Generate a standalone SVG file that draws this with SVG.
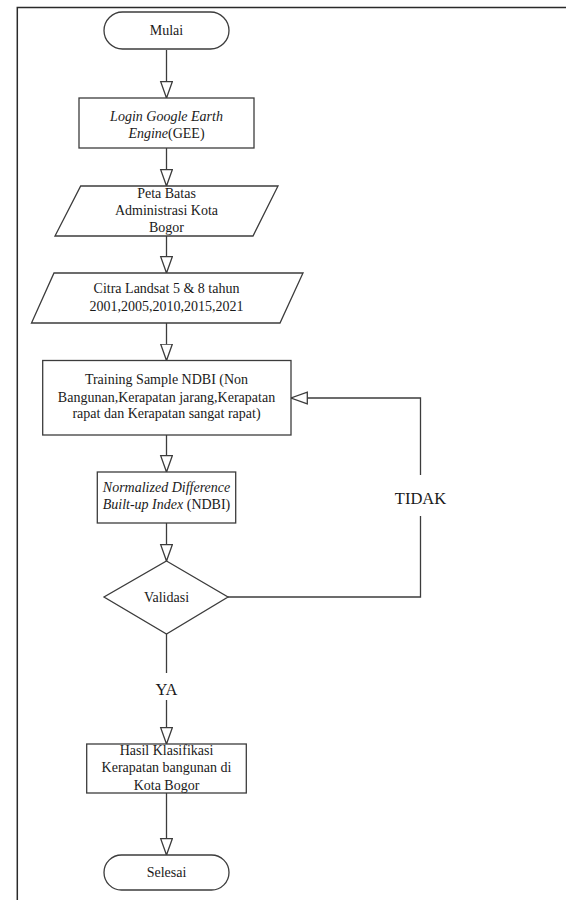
<svg xmlns="http://www.w3.org/2000/svg" width="566" height="900" viewBox="0 0 566 900">
  <style>
    .shape { fill: #ffffff; stroke: #3c3c3c; stroke-width: 1.3; }
    .line { fill: none; stroke: #3c3c3c; stroke-width: 1.3; }
    .frame { fill: none; stroke: #2a2a2a; stroke-width: 1.5; }
    text { font-family: "Liberation Serif", "Times New Roman", serif; font-size: 14px; fill: #1a1a1a; text-anchor: middle; }
    .it { font-style: italic; }
    .lbl { font-size: 16.5px; }
  </style>
  <defs>
    <marker id="open-arrow" markerUnits="userSpaceOnUse" markerWidth="20" markerHeight="16" refX="17" refY="6.5" orient="auto">
      <path d="M0.7,0.7 L17,6.5 L0.7,12.3 Z" fill="#ffffff" stroke="#3c3c3c" stroke-width="1.3"/>
    </marker>
  </defs>

  <!-- page frame -->
  <path class="frame" d="M17.3,900 V7.6 H566"/>

  <!-- connectors -->
  <g id="connectors">
    <path class="line" d="M166.5,50 V98" marker-end="url(#open-arrow)"/>
    <path class="line" d="M166.5,148 V186" marker-end="url(#open-arrow)"/>
    <path class="line" d="M166.5,236 V273" marker-end="url(#open-arrow)"/>
    <path class="line" d="M166.5,323 V360.5" marker-end="url(#open-arrow)"/>
    <path class="line" d="M166.5,435 V472" marker-end="url(#open-arrow)"/>
    <path class="line" d="M166.5,523 V561" marker-end="url(#open-arrow)"/>
    <!-- TIDAK loop back -->
    <path class="line" d="M228,597 H420.5 V516"/>
    <path class="line" d="M420.5,475 V398 H291" marker-end="url(#open-arrow)"/>
    <text class="lbl" x="420.5" y="504">TIDAK</text>
    <!-- YA -->
    <path class="line" d="M166.5,634 V673"/>
    <text class="lbl" x="166.5" y="695">YA</text>
    <path class="line" d="M166.5,700 V744" marker-end="url(#open-arrow)"/>
    <path class="line" d="M166.5,793 V855" marker-end="url(#open-arrow)"/>
  </g>

  <g id="mulai">
    <rect class="shape" x="104" y="12" width="125" height="37" rx="18.5" ry="18.5"/>
    <text x="166.5" y="35">Mulai</text>
  </g>

  <g id="login-gee">
    <rect class="shape" x="79" y="98" width="175" height="50"/>
    <text x="166.5" y="121"><tspan class="it">Login Google Earth</tspan></text>
    <text x="166.5" y="138"><tspan class="it">Engine</tspan>(GEE)</text>
  </g>

  <g id="peta-batas">
    <polygon class="shape" points="80.7,186 278,186 253,236 55,236"/>
    <text x="166.5" y="198">Peta Batas</text>
    <text x="166.5" y="215">Administrasi Kota</text>
    <text x="166.5" y="232">Bogor</text>
  </g>

  <g id="citra-landsat">
    <polygon class="shape" points="54,273 303,273 280,323 31.5,323"/>
    <text x="166.5" y="293">Citra Landsat 5 &amp; 8 tahun</text>
    <text x="166.5" y="311">2001,2005,2010,2015,2021</text>
  </g>

  <g id="training-sample">
    <rect class="shape" x="42.7" y="360.5" width="248.3" height="74.5"/>
    <text x="166.5" y="384">Training Sample NDBI (Non</text>
    <text x="166.5" y="401.5">Bangunan,Kerapatan jarang,Kerapatan</text>
    <text x="166.5" y="418">rapat dan Kerapatan sangat rapat)</text>
  </g>

  <g id="ndbi">
    <rect class="shape" x="97.3" y="472" width="138.4" height="51"/>
    <text x="166.5" y="492"><tspan class="it">Normalized Difference</tspan></text>
    <text x="166.5" y="509"><tspan class="it">Built-up Index</tspan> (NDBI)</text>
  </g>

  <g id="validasi">
    <polygon class="shape" points="166.5,561 228,597 166.5,634 104,597"/>
    <text x="166.5" y="602">Validasi</text>
  </g>

  <g id="hasil-klasifikasi">
    <rect class="shape" x="86.7" y="744" width="159.6" height="49"/>
    <text x="166.5" y="755">Hasil Klasifikasi</text>
    <text x="166.5" y="772">Kerapatan bangunan di</text>
    <text x="166.5" y="789.5">Kota Bogor</text>
  </g>

  <g id="selesai">
    <rect class="shape" x="104" y="855" width="125" height="35" rx="17.5" ry="17.5"/>
    <text x="166.5" y="877">Selesai</text>
  </g>
</svg>
